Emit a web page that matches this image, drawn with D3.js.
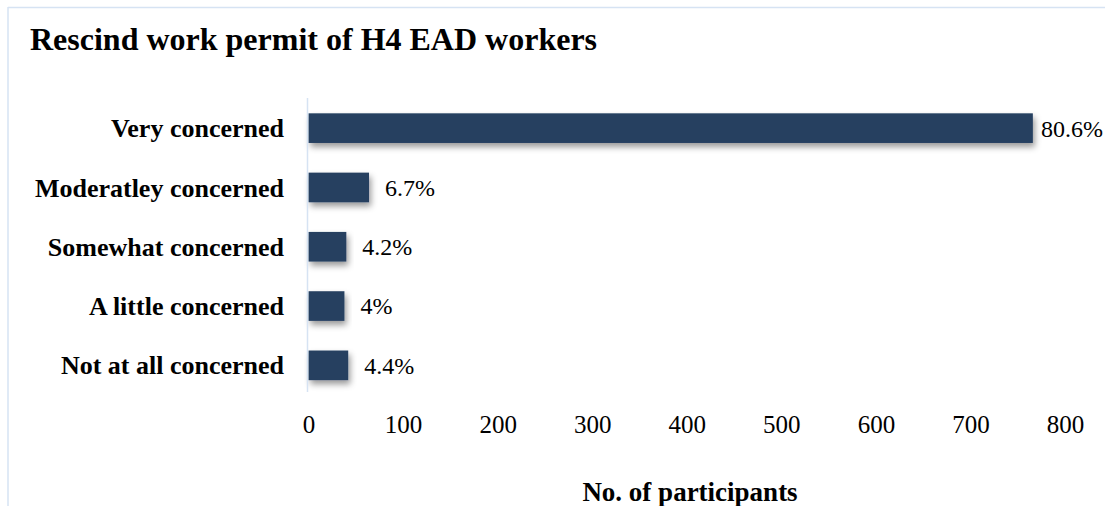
<!DOCTYPE html>
<html>
<head>
<meta charset="utf-8">
<script src="https://cdn.jsdelivr.net/npm/d3@7"></script>
<style>
  body { margin: 0; background: #fff; }
  svg { display: block; }
  svg text { font-family: "Liberation Serif", "DejaVu Serif", serif; }
</style>
</head>
<body>
<svg></svg>
<script>
'use strict';

var SVG_SIZE = { width: 1105, height: 506 };

// data
var categories = ['Very concerned', 'Moderatley concerned', 'Somewhat concerned', 'A little concerned', 'Not at all concerned'];
var counts = [766, 64, 40, 38, 42];
var percentLabels = ['80.6%', '6.7%', '4.2%', '4%', '4.4%'];
var xTicks = [0, 100, 200, 300, 400, 500, 600, 700, 800];

var data = categories.map(function (c, i) {
    return { cat: c, n: counts[i], label: percentLabels[i] };
});

var svg = d3.select('svg')
    .attr('width', SVG_SIZE.width).attr('height', SVG_SIZE.height);

// drop shadow for the bars
var defs = svg.append('defs');
var f = defs.append('filter').attr('id', 'shadow')
    .attr('x', '-10%').attr('y', '-30%').attr('width', '130%').attr('height', '200%');
f.append('feDropShadow')
    .attr('dx', 2).attr('dy', 4).attr('stdDeviation', 3)
    .attr('flood-color', '#000').attr('flood-opacity', 0.4);

// frame lines (chart area border)
svg.append('line').attr('x1', 8).attr('x2', SVG_SIZE.width).attr('y1', 7.5).attr('y2', 7.5)
    .attr('stroke', '#d6e3f3').attr('stroke-width', 1.5);
svg.append('line').attr('x1', 8).attr('x2', 8).attr('y1', 7).attr('y2', SVG_SIZE.height)
    .attr('stroke', '#d6e3f3').attr('stroke-width', 1.5);

var xScale = d3.scaleLinear().domain([0, 800]).range([308.5, 1065]);
var yScale = d3.scaleBand().domain(categories).range([98.5, 395])
    .paddingInner(0.5).paddingOuter(0.25);

// title
svg.append('text')
    .attr('x', 30).attr('y', 50)
    .attr('font-size', 32).attr('font-weight', 'bold')
    .attr('fill', '#000')
    .text('Rescind work permit of H4 EAD workers');

// bars
svg.append('g').selectAll('rect').data(data).enter().append('rect')
    .attr('x', xScale(0))
    .attr('y', function (d) { return yScale(d.cat); })
    .attr('width', function (d) { return xScale(d.n) - xScale(0); })
    .attr('height', yScale.bandwidth())
    .attr('fill', '#264061')
    .attr('filter', 'url(#shadow)');

// vertical axis line
svg.append('line')
    .attr('x1', xScale(0) - 1).attr('x2', xScale(0) - 1)
    .attr('y1', 98).attr('y2', 392)
    .attr('stroke', '#d6e3f3').attr('stroke-width', 1.5);

// category labels
svg.append('g').selectAll('text').data(data).enter().append('text')
    .attr('x', 284)
    .attr('y', function (d) { return yScale(d.cat) + yScale.bandwidth() / 2; })
    .attr('dy', '0.35em')
    .attr('text-anchor', 'end')
    .attr('font-size', 26).attr('font-weight', 'bold')
    .text(function (d) { return d.cat; });

// value labels, kept inside the frame
svg.append('g').selectAll('text').data(data).enter().append('text')
    .attr('y', function (d) { return yScale(d.cat) + yScale.bandwidth() / 2; })
    .attr('dy', '0.35em')
    .attr('font-size', 24)
    .text(function (d) { return d.label; })
    .attr('x', function (d) {
        var w = this.getComputedTextLength();
        return Math.min(xScale(d.n) + 16, SVG_SIZE.width - 2 - w);
    });

// x axis (labels only)
var xAxis = d3.axisBottom(xScale).tickValues(xTicks).tickSize(0).tickPadding(0);
var gx = svg.append('g').attr('transform', 'translate(0,415)').call(xAxis);
gx.attr('font-family', null);
gx.select('.domain').remove();
gx.selectAll('text')
    .attr('font-size', 25)
    .attr('fill', '#000')
    .attr('dy', '0.71em');

// axis title
svg.append('text')
    .attr('x', 690).attr('y', 501)
    .attr('text-anchor', 'middle')
    .attr('font-size', 27).attr('font-weight', 'bold')
    .text('No. of participants');
</script>
</body>
</html>
